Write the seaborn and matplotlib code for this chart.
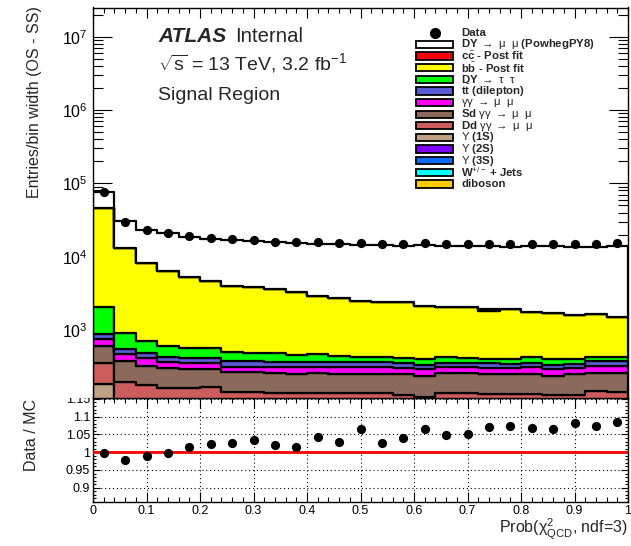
import numpy as np
import pandas as pd
import matplotlib
matplotlib.use("Agg")
import matplotlib.pyplot as plt
import seaborn as sns
from matplotlib.patches import Rectangle
from matplotlib.lines import Line2D
from matplotlib.ticker import MultipleLocator, LogLocator, FuncFormatter, NullFormatter

# ---------------- data ----------------
bin_edges = [round(0.04 * i, 2) for i in range(26)]
bin_centers = [round(0.5 * (a + b), 3) for a, b in zip(bin_edges[:-1], bin_edges[1:])]

data_counts = [75500, 30000, 23100, 20800, 19100, 18000, 17400, 16900, 16000, 15700,
               15700, 15200, 15600, 14750, 14750, 15200, 14750, 14750, 14750, 14750,
               14750, 14750, 14750, 14750, 15200]
ratio_vals = [0.997, 0.978, 0.988, 0.999, 1.014, 1.023, 1.025, 1.033, 1.019, 1.014,
              1.044, 1.030, 1.065, 1.025, 1.040, 1.066, 1.049, 1.052, 1.070, 1.075,
              1.068, 1.066, 1.082, 1.075, 1.085]

dy_mumu = [30030, 17680, 15250, 14380, 13640, 12940, 13000, 12540, 12080, 12230,
           12130, 12000, 12160, 12000, 11750, 12110, 11980, 11980, 11850, 11790,
           12030, 12150, 12030, 12080, 12490]
cc_post = [0, 0, 0, 0, 0, 0, 0, 0, 0, 0, 0, 0, 0, 0, 0, 0, 0, 0, 150, 0, 0, 0, 0, 0, 0]
bb_post = [43620, 12100, 7420, 5830, 4640, 4100, 3480, 3340, 3140, 2790,
           2440, 2310, 2060, 1960, 2010, 1750, 1660, 1620, 1390, 1530,
           1360, 1290, 1200, 1220, 1100]
dy_tautau = [1207, 350, 233, 178, 143, 151, 118, 103, 111, 100,
             104, 85, 71, 71, 68, 69, 66, 61, 51, 61, 66, 69, 61, 46, 46]
ttbar = [126, 80, 70, 71, 68, 60, 62, 62, 60, 52,
         46, 46, 46, 46, 45, 42, 42, 42, 45, 41, 48, 42, 41, 52, 52]
gg_mumu = [142, 93, 85, 56, 57, 57, 51, 51, 54, 56,
           60, 67, 67, 67, 57, 55, 60, 60, 57, 51, 61, 53, 51, 64, 64]
sd_gg = [247, 181, 148, 143, 131, 129, 124, 124, 116, 114,
         116, 109, 109, 109, 119, 113, 119, 116, 116, 116, 116, 108, 119, 115, 118]
dd_gg = [175, 177, 158, 145, 145, 149, 126, 126, 125, 124,
         126, 126, 126, 127, 117, 111, 124, 127, 120, 120, 120, 118, 118, 134, 131]
ups1s = [125, 12, 12, 10, 10, 8, 7, 7, 7, 6, 6, 6, 6, 5, 5, 4, 5, 5, 5, 5, 5, 4, 4, 5, 5]
ups2s = [35, 3, 3, 3, 3, 3, 3, 3, 3, 3, 3, 3, 3, 3, 3, 3, 3, 3, 3, 3, 3, 3, 3, 3, 3]
ups3s = [18, 2, 2, 2, 2, 2, 2, 2, 2, 2, 2, 2, 2, 2, 2, 2, 2, 2, 2, 2, 2, 2, 2, 2, 2]
wjets = [2, 1, 1, 1, 1, 1, 1, 1, 1, 1, 1, 1, 1, 1, 1, 1, 1, 1, 1, 1, 1, 1, 1, 1, 1]
diboson = [3, 2, 2, 2, 2, 2, 2, 2, 2, 2, 2, 2, 2, 2, 2, 2, 2, 2, 2, 2, 2, 2, 2, 2, 2]

process_keys = ["dy_mumu", "cc", "bb", "dy_tautau", "ttbar", "gg_mumu", "sd_gg", "dd_gg",
                "ups1s", "ups2s", "ups3s", "wjets", "diboson"]
process_values = [dy_mumu, cc_post, bb_post, dy_tautau, ttbar, gg_mumu, sd_gg, dd_gg,
                  ups1s, ups2s, ups3s, wjets, diboson]
process_colors = ["#ffffff", "#ff0000", "#ffff00", "#00ff00", "#5b5bd6", "#ff00ff",
                  "#8b6a5b", "#cd5c5c", "#c1a184", "#7f00ff", "#0a6cff", "#00ffff", "#ffcc00"]
legend_labels = [r"DY $\rightarrow\ \mu\ \ \mu$ (PowhegPY8)",
                 r"$\mathbf{c}\bar{\mathbf{c}}$ - Post fit",
                 r"$\mathbf{b}\bar{\mathbf{b}}$ - Post fit",
                 r"DY $\rightarrow\ \tau\ \ \tau$",
                 r"$\mathbf{t}\bar{\mathbf{t}}$ (dilepton)",
                 r"$\gamma\gamma\ \rightarrow\ \mu\ \ \mu$",
                 r"Sd $\gamma\gamma\ \rightarrow\ \mu\ \ \mu$",
                 r"Dd $\gamma\gamma\ \rightarrow\ \mu\ \ \mu$",
                 r"$\Upsilon$ (1S)",
                 r"$\Upsilon$ (2S)",
                 r"$\Upsilon$ (3S)",
                 r"W$^{+/-}$ + Jets",
                 "diboson"]

# ---------------- style ----------------
sns.set_style("ticks")
plt.rcParams["font.family"] = ["Liberation Sans", "DejaVu Sans"]
plt.rcParams["mathtext.fontset"] = "custom"
plt.rcParams["mathtext.rm"] = "Liberation Sans"
plt.rcParams["mathtext.it"] = "Liberation Sans:italic"
plt.rcParams["mathtext.bf"] = "Liberation Sans:bold"
plt.rcParams["mathtext.sf"] = "Liberation Sans"
plt.rcParams["mathtext.default"] = "rm"
plt.rcParams["axes.edgecolor"] = "black"
plt.rcParams["axes.linewidth"] = 1.0
plt.rcParams["xtick.color"] = "black"
plt.rcParams["ytick.color"] = "black"

W, H = 631, 546
fig = plt.figure(figsize=(W / 100, H / 100), dpi=100)


def fx(px):
    return px / W


def fy(py):
    return 1 - py / H


ax = fig.add_axes([fx(93), fy(398), fx(628) - fx(93), fy(7.5) - fy(398)])
axr = fig.add_axes([fx(93), fy(502), fx(628) - fx(93), fy(398) - fy(502)])
ax.set_zorder(2)
axr.set_zorder(1)

# ---------------- stacked histogram ----------------
rows = []
for key, vals in zip(process_keys, process_values):
    for c, v in zip(bin_centers, vals):
        rows.append((c, v, key))
df = pd.DataFrame(rows, columns=["x", "w", "process"])

ax.set_yscale("log")
sns.histplot(data=df, x="x", weights="w", hue="process", hue_order=process_keys,
             palette=dict(zip(process_keys, process_colors)), bins=bin_edges,
             multiple="stack", element="step", fill=True, alpha=1, common_norm=False,
             linewidth=1.6, edgecolor="black", legend=False, ax=ax)
sns.scatterplot(x=bin_centers, y=data_counts, color="black", s=44, linewidth=0,
                zorder=6, ax=ax)

ax.set_xlim(0, 1)
ax.set_ylim(118, 2.51e7)
ax.set_xlabel("")
ax.set_ylabel("")

# ---------------- ratio ----------------
axr.axhspan(0.9965, 1.0035, color="#ff9a9a", lw=0, zorder=2)
axr.axhline(1.0, color="red", lw=2, zorder=3)
sns.scatterplot(x=bin_centers, y=ratio_vals, color="black", s=44, linewidth=0,
                zorder=5, ax=axr)
axr.set_xlim(0, 1)
axr.set_ylim(0.86, 1.1525)
axr.set_xlabel("")
axr.set_ylabel("")
axr.grid(True, which="major", color="black", linestyle=(0, (1, 2.5)), linewidth=0.8)

# ---------------- ticks ----------------
fmt = FuncFormatter(lambda v, p: f"{round(v, 3):g}")
for a in (ax, axr):
    a.tick_params(which="both", direction="in", top=True, right=True,
                  bottom=True, left=True, color="black")
    a.xaxis.set_major_locator(MultipleLocator(0.1))
    a.xaxis.set_minor_locator(MultipleLocator(0.02))
    a.tick_params(axis="x", which="major", length=7, width=0.8)
    a.tick_params(axis="x", which="minor", length=3.5, width=0.8)

ax.tick_params(axis="x", labelbottom=False)
ax.yaxis.set_major_locator(LogLocator(base=10, numticks=20))
ax.yaxis.set_minor_locator(LogLocator(base=10, subs=np.arange(2, 10), numticks=20))
ax.yaxis.set_minor_formatter(NullFormatter())
ax.tick_params(axis="y", which="major", length=14, width=0.8, labelsize=11.5, pad=4)
ax.tick_params(axis="y", which="minor", length=7, width=0.8)

axr.xaxis.set_major_formatter(fmt)
axr.yaxis.set_major_locator(MultipleLocator(0.05))
axr.yaxis.set_minor_locator(MultipleLocator(0.01))
axr.yaxis.set_major_formatter(fmt)
axr.tick_params(axis="y", which="major", length=5, width=0.8, labelsize=9, pad=2)
axr.tick_params(axis="y", which="minor", length=2.5, width=0.8)
axr.tick_params(axis="x", labelsize=9, pad=2.5)

# hide upper half of the top ratio label, as in the reference
fig.add_artist(Rectangle((fx(40), fy(398.3)), fx(92) - fx(40), fy(384) - fy(398.3),
                         transform=fig.transFigure, facecolor="white", edgecolor="none",
                         zorder=10))

# ---------------- labels ----------------
fig.text(fx(35), fy(6), "Entries/bin width (OS - SS)", rotation=90, ha="center",
         va="top", fontsize=11.5)
fig.text(fx(31.5), fy(399), "Data / MC", rotation=90, ha="center", va="top",
         fontsize=11.5)
fig.text(fx(628), fy(533), r"Prob($\chi^{2}_{\mathrm{QCD}}$, ndf=3)", ha="right",
         va="baseline", fontsize=11.5)

fig.text(fx(158), fy(41.7), "ATLAS", fontsize=15, fontweight="bold", style="italic",
         va="baseline")
fig.text(fx(235), fy(41.7), "Internal", fontsize=14.7, va="baseline")
fig.text(fx(158), fy(69.5), r"$\sqrt{s}$ = 13 TeV, 3.2 fb$^{-1}$", fontsize=14,
         va="baseline")
fig.text(fx(158), fy(100), "Signal Region", fontsize=14, va="baseline")

# ---------------- legend ----------------
row0, drow = 32.7, 11.64
fig.add_artist(Line2D([fx(434.5)], [fy(row0)], marker="o", color="black", ms=7,
                      linestyle="none", transform=fig.transFigure, zorder=11))
fig.text(fx(461), fy(row0), "Data", fontsize=8.2, fontweight="bold", va="center",
         zorder=11)
for i, (lab, col) in enumerate(zip(legend_labels, process_colors)):
    yc = row0 + drow * (i + 1)
    fig.add_artist(Rectangle((fx(415.7), fy(yc + 3.65)), fx(453.3) - fx(415.7), 7.3 / H,
                             transform=fig.transFigure, facecolor=col, edgecolor="black",
                             lw=1.3, zorder=11))
    fig.text(fx(461), fy(yc), lab, fontsize=8.2, fontweight="bold", va="center",
             zorder=11)

fig.savefig("out.png", dpi=100)
